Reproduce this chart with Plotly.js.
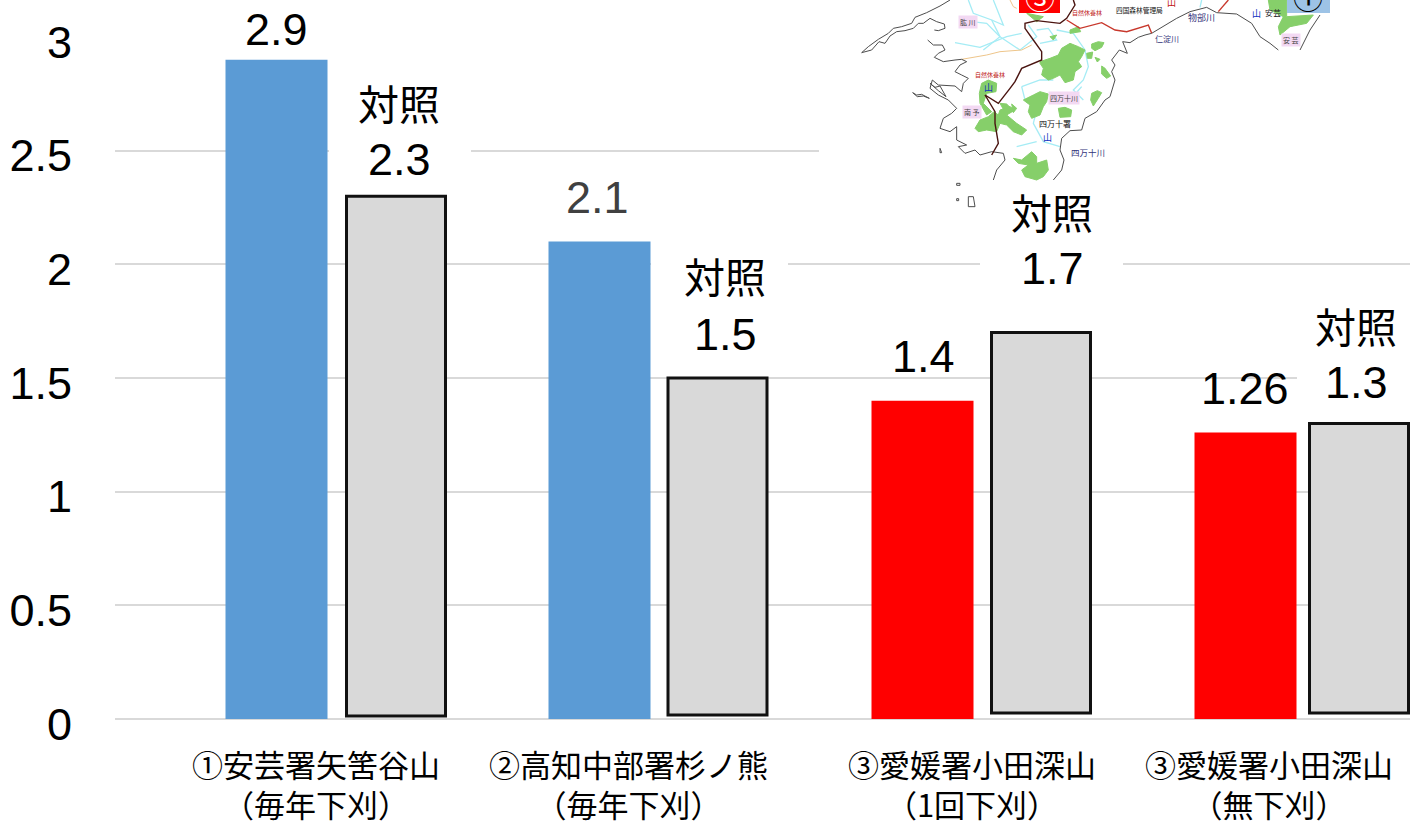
<!DOCTYPE html>
<html lang="ja">
<head>
<meta charset="utf-8">
<title>下刈り区と対照区の比較</title>
<script src="https://cdn.plot.ly/plotly-3.0.1.min.js"></script>
<style>
  html, body { margin: 0; padding: 0; background: #fff; overflow: hidden; }
  #chart { width: 1418px; height: 827px; }
</style>
</head>
<body>
<div id="chart"></div>
<script>
// Survey sites and treatments
const sites = ['①安芸署矢筈谷山', '②高知中部署杉ノ熊', '③愛媛署小田深山', '③愛媛署小田深山'];
const treatments = ['（毎年下刈）', '（毎年下刈）', '（1回下刈）', '（無下刈）'];
const plotValues = [2.9, 2.1, 1.4, 1.26];
const plotValueLabels = ['2.9', '2.1', '1.4', '1.26'];
const controlValues = [2.3, 1.5, 1.7, 1.3];
const controlValueLabels = ['2.3', '1.5', '1.7', '1.3'];
const controlName = '対照';
const yTicks = [0, 0.5, 1, 1.5, 2, 2.5, 3];
const yTickLabels = ['0', '0.5', '1', '1.5', '2', '2.5', '3'];

// Page geometry of the plot area
const M = { l: 115, r: 8, t: 37, b: 108 };
const W = 1418 - M.l - M.r, H = 827 - M.t - M.b;
const BAND = 323;
const px = x => (x - M.l) / W;
const py = y => 1 - (y - M.t) / H;

const categories = sites.map((s, i) => s + treatments[i]);

// Bar placement inside each category band, in page pixels
const plotColors = ['#5b9bd5', '#5b9bd5', '#ff0000', '#ff0000'];
const controlShift = [70, 68.5, 69, 64];
const controlBottoms = [0.013, 0.018, 0.026, 0.026];

const plotTrace = {
  type: 'bar', x: categories, y: plotValues, width: 102 / BAND, offset: -51 / BAND,
  marker: { color: plotColors, line: { width: 0 } }, hoverinfo: 'skip', showlegend: false
};
const controlTrace = {
  type: 'bar', x: categories, y: controlValues.map((v, i) => v - controlBottoms[i]),
  base: controlBottoms, width: 99 / BAND, offset: controlShift.map(v => v / BAND),
  marker: { color: '#d9d9d9', line: { color: '#111111', width: 3 } },
  hoverinfo: 'skip', showlegend: false
};

// Text helpers
const VALUE_FONT = 'Liberation Sans, Noto Sans CJK JP, sans-serif';
const JP_FONT = 'Noto Sans CJK JP, sans-serif';
const note = (text, x, y, size, color, family) => ({
  text, x: px(x), y: py(y), xref: 'paper', yref: 'paper', showarrow: false,
  xanchor: 'center', yanchor: 'middle', borderpad: 0,
  font: { family: family || JP_FONT, size, color: color || '#000' }
});
const blank = (x0, y0, x1, y1) => ({
  type: 'rect', xref: 'paper', yref: 'paper', layer: 'above',
  x0: px(x0), x1: px(x1), y0: py(y0), y1: py(y1),
  fillcolor: '#fff', line: { width: 0 }
});

// Inset map of the southern Shikoku area; outline points in inset units (3 per page pixel)
const mapPt = ([x, y]) => `${px(840 + x / 3)},${py(y / 3)}`;
const mapPath = (pts, closed) => 'M' + pts.map(mapPt).join('L') + (closed ? 'Z' : '');
const mapLine = (pts, color, width) => ({
  type: 'path', xref: 'paper', yref: 'paper', layer: 'above', path: mapPath(pts),
  line: { color, width: width || 1 }, fillcolor: 'rgba(0,0,0,0)'
});
const mapArea = (pts, color) => ({
  type: 'path', xref: 'paper', yref: 'paper', layer: 'above', path: mapPath(pts, true),
  line: { color, width: 1 }, fillcolor: color
});

const forests = [
  [[600,185],[630,175],[655,165],[665,145],[690,130],[715,140],[735,150],[725,170],[715,185],[725,200],[705,215],[700,240],[675,248],[660,225],[640,235],[625,240],[605,225],[610,205],[600,190]],
  [[755,132],[775,125],[792,128],[785,142],[765,152],[755,145]],
  [[785,198],[795,205],[812,228],[800,235],[785,222]],
  [[740,160],[758,156],[755,175],[742,175]],
  [[765,172],[780,178],[772,186]],
  [[580,285],[600,275],[625,282],[620,305],[610,320],[600,345],[575,355],[565,335],[570,315],[550,300]],
  [[655,325],[675,322],[695,330],[692,350],[660,352]],
  [[755,280],[772,272],[785,278],[775,295],[760,318],[752,300]],
  [[425,250],[445,240],[470,250],[468,275],[440,280],[430,310],[455,335],[440,345],[420,310],[418,280]],
  [[405,385],[420,360],[445,350],[462,335],[475,345],[480,330],[510,320],[525,330],[500,345],[530,370],[560,390],[545,405],[520,395],[500,375],[480,370],[470,395],[440,390],[415,395]],
  [[480,310],[500,312],[510,322],[490,328]],
  [[515,312],[530,325],[520,338]],
  [[520,475],[545,480],[575,455],[590,470],[590,490],[620,480],[625,510],[610,530],[590,540],[555,530],[545,510],[565,495],[535,490]],
  [[690,90],[715,80],[722,95],[690,100]],
  [[630,110],[650,105],[640,120]],
  [[560,40],[610,50],[590,65]],
  [[1285,0],[1340,0],[1340,50],[1420,45],[1400,70],[1350,80],[1320,105],[1315,80],[1330,50],[1290,30]]
];
const rivers = [
  [[385,0],[400,40],[455,60],[480,110],[430,150]],
  [[345,128],[420,142],[500,110],[545,100]],
  [[480,110],[540,150],[590,110],[565,75]],
  [[460,0],[490,75],[455,60]],
  [[395,65],[440,70],[480,110]],
  [[590,90],[625,85],[650,120],[600,130]],
  [[650,90],[700,100],[735,150],[745,200],[730,240],[700,270],[730,300]],
  [[545,260],[555,300],[590,330],[580,370],[610,425],[660,440]],
  [[545,260],[600,240],[640,240]],
  [[530,440],[590,425]],
  [[690,300],[725,260]],
  [[1085,0],[1080,22]]
];
const coasts = [
  // Sadamisaki peninsula and the Uwa Sea shore
  [[330,0],[300,18],[260,38],[225,52],[215,70],[185,80],[160,85],[145,100],[115,118],[85,140],[65,158],[95,150],[117,125],[135,130],[150,108],[170,95],[195,92],[220,85],[235,70],[250,70],[270,55],[290,65],[313,72],[315,85],[295,92],[283,90]],
  [[263,120],[280,135],[307,135],[315,150],[295,160],[283,172],[310,185],[345,180],[365,178],[380,185],[360,195],[345,215],[365,225],[385,235],[370,250],[365,275],[345,258],[295,255],[277,240],[270,265],[295,285],[325,300],[350,325]],
  [[350,325],[335,340],[310,355],[300,385],[330,395],[350,380],[350,420],[380,435],[355,440],[375,460],[405,450],[420,465],[455,455],[490,460],[495,480],[470,510],[460,540]],
  [[218,278],[232,290],[250,288],[268,295],[245,283],[230,285],[218,278]],
  [[270,250],[285,262],[300,258],[318,290],[295,272],[270,250]],
  [[300,445],[305,458],[300,458],[300,445]],
  // Tosa Bay side
  [[640,540],[665,510],[672,480],[660,450],[665,415],[690,392],[725,390],[735,355],[770,335],[795,300],[810,290],[825,240],[815,215],[825,195],[815,180],[838,150],[862,160],[848,125],[870,128],[895,112],[915,105],[935,100],[960,85],[1010,55],[1050,35],[1100,22],[1130,38],[1190,42],[1235,70],[1260,110],[1290,130],[1315,150]],
  [[1380,150],[1410,90],[1440,45]],
  [[385,590],[400,590],[405,620],[385,620],[385,590]],
  [[350,550],[360,550],[360,556],[350,556],[350,550]],
  [[350,596],[356,596],[356,602],[350,602],[350,596]]
];
const borders = [
  [[455,465],[475,430],[465,370],[465,335],[435,285],[475,310],[510,265],[525,245],[545,205],[605,180],[605,155],[580,120],[555,85],[555,70],[590,62],[660,70],[680,55],[705,15],[700,0]]
];
const redBorders = [
  [[680,60],[720,85],[785,68],[825,90],[860,95],[925,75],[935,100]],
  [[1135,35],[1165,0]]
];
const prefLines = [
  [[365,178],[440,165],[480,155],[545,150],[575,135]],
  [[510,0],[520,20],[530,25]]
];

const mapShapes = [
  blank(819, 0, 1418, 190),
  ...rivers.map(p => mapLine(p, '#a5ecf5', 1.3)),
  ...forests.map(p => mapArea(p, '#86cf6a')),
  ...prefLines.map(p => mapLine(p, '#eec58a', 1)),
  ...coasts.map(p => mapLine(p, '#4d4d4d', 1)),
  ...borders.map(p => mapLine(p, '#4a1410', 1.4)),
  ...redBorders.map(p => mapLine(p, '#c8382c', 1.4)),
  { type: 'rect', xref: 'paper', yref: 'paper', layer: 'above', x0: px(1019), x1: px(1060), y0: py(0), y1: py(13), fillcolor: '#ff0000', line: { width: 0 } },
  { type: 'rect', xref: 'paper', yref: 'paper', layer: 'above', x0: px(1287), x1: px(1330), y0: py(0), y1: py(13), fillcolor: '#9dc3e6', line: { width: 0 } }
];

const pinkTag = (text, x, y) => Object.assign(note(text, x, y, 7, '#444'), { bgcolor: '#f3d9f3', borderpad: 1 });
const mapNotes = [
  pinkTag('肱 川', 968, 22), pinkTag('四万十川', 1064, 98), pinkTag('南 予', 972, 112), pinkTag('安 芸', 1291, 40),
  note('四国森林管理局', 1139, 10, 6.7, '#111'),
  note('四万十署', 1055, 123, 8, '#111'),
  note('安芸', 1273, 12, 8, '#222'),
  note('物部川', 1201, 17, 9, '#33337a'),
  note('仁淀川', 1167, 38, 8, '#33337a'),
  note('四万十川', 1088, 152, 8.5, '#33337a'),
  note('山', 1047, 137, 9, '#1030c0'),
  note('山', 1256, 13, 9, '#1030c0'),
  note('山', 988, 87, 9, '#1030c0'),
  note('山', 1171, 2, 9, '#c01010'),
  note('自然休養林', 990, 75, 6, '#c01818'),
  note('自然休養林', 1087, 12, 6, '#c01818'),
  note('③', 1040, -4, 30, '#ffffff'),
  note('①', 1308, -4, 30, '#000000')
];

// Page centres of the text beside each bar
const plotLabelPos = [[276, 29], [597, 197], [923, 356], [1245, 388]];
const plotLabelColor = ['#000', '#404040', '#000', '#000'];
const controlLabelPos = [[399, 102, 159], [725, 275, 334], [1052, 211, 269], [1356, 325, 382]];
const axisLabelX = [316, 628, 972, 1269];
const AXIS_LABEL_Y = 784;
const AXIS_LABEL_SIZE = 31;

const annotations = [
  ...plotValueLabels.map((t, i) => note(t, plotLabelPos[i][0], plotLabelPos[i][1], 45, plotLabelColor[i], VALUE_FONT)),
  ...controlValueLabels.map((t, i) => note(t, controlLabelPos[i][0], controlLabelPos[i][2], 45, '#000', VALUE_FONT)),
  ...controlValueLabels.map((t, i) => note(controlName, controlLabelPos[i][0], controlLabelPos[i][1], 41, '#000')),
  ...sites.map((t, i) => note(`${t}<br>${treatments[i]}`, axisLabelX[i], AXIS_LABEL_Y, AXIS_LABEL_SIZE)),
  ...mapNotes
];

// White panels behind the control labels interrupt the gridlines
const labelPanels = [
  blank(329, 80, 471, 185),
  blank(651, 250, 788, 355),
  blank(980, 192, 1123, 292),
  blank(1297, 305, 1418, 405)
];

const layout = {
  width: 1418, height: 827, paper_bgcolor: '#fff', plot_bgcolor: '#fff',
  margin: M, barmode: 'overlay', showlegend: false,
  xaxis: {
    type: 'category', categoryorder: 'array', categoryarray: categories,
    range: [-0.5, -0.5 + W / BAND], showticklabels: false, ticks: '', showgrid: false,
    showline: false, zeroline: false
  },
  yaxis: {
    range: [0, 3], tickvals: yTicks, ticktext: yTickLabels, ticks: '',
    showgrid: true, gridcolor: '#d9d9d9', gridwidth: 2,
    zeroline: true, zerolinecolor: '#d9d9d9', zerolinewidth: 2, showline: false,
    tickfont: { family: VALUE_FONT, size: 45, color: '#000' },
    ticklabelstandoff: 42, ticklabelshift: 5
  },
  shapes: [...labelPanels, ...mapShapes],
  annotations
};

Plotly.newPlot('chart', [plotTrace, controlTrace], layout, { displayModeBar: false, staticPlot: true });
</script>
</body>
</html>
